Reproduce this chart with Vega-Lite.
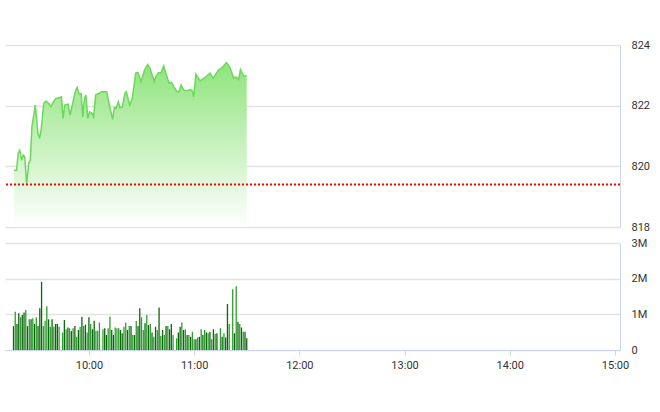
{
  "$schema": "https://vega.github.io/schema/vega-lite/v6.json",
  "autosize": "none",
  "width": 615,
  "height": 305,
  "padding": {"left": 5, "top": 45, "right": 40, "bottom": 62},
  "config": {
    "view": {"stroke": null},
    "axis": {"labelFont": "Roboto", "labelFontSize": 11, "labelColor": "#333333", "gridColor": "#e3e3e3", "gridWidth": 1.5, "domainColor": "#ccd6eb", "tickColor": "#ccd6eb"}
  },
  "layer": [
    {
      "data": {"values": [
        {"m": 17.25, "p": 819.87}, {"m": 18.75, "p": 819.87}, {"m": 19.67, "p": 820.43}, {"m": 20.58, "p": 820.53},
        {"m": 21.58, "p": 820.20}, {"m": 22.5, "p": 820.37}, {"m": 23.42, "p": 820.31}, {"m": 24.5, "p": 819.41},
        {"m": 25.67, "p": 820.10}, {"m": 26.58, "p": 820.20}, {"m": 27.5, "p": 821.30}, {"m": 29.42, "p": 822.02},
        {"m": 30.92, "p": 821.09}, {"m": 31.83, "p": 820.92}, {"m": 32.75, "p": 821.19}, {"m": 34.25, "p": 822.08},
        {"m": 35.58, "p": 822.15}, {"m": 36.5, "p": 822.10}, {"m": 38.42, "p": 821.97}, {"m": 39.25, "p": 822.08},
        {"m": 41.17, "p": 822.24}, {"m": 43.08, "p": 822.26}, {"m": 44.33, "p": 822.29}, {"m": 45.25, "p": 821.58},
        {"m": 46.25, "p": 822.02}, {"m": 48.08, "p": 822.05}, {"m": 49.25, "p": 821.69}, {"m": 50.5, "p": 822.02},
        {"m": 52.42, "p": 822.51}, {"m": 53.33, "p": 822.60}, {"m": 54.25, "p": 822.40}, {"m": 55.58, "p": 822.40},
        {"m": 56.5, "p": 821.63}, {"m": 57.5, "p": 822.24}, {"m": 58.33, "p": 822.35}, {"m": 59.33, "p": 821.58},
        {"m": 60.42, "p": 821.80}, {"m": 61.75, "p": 821.74}, {"m": 62.67, "p": 821.63}, {"m": 63.83, "p": 822.35},
        {"m": 65.5, "p": 822.40}, {"m": 67.33, "p": 822.46}, {"m": 70.17, "p": 822.46}, {"m": 71.67, "p": 822.02},
        {"m": 73.5, "p": 821.55}, {"m": 74.5, "p": 821.94}, {"m": 75.42, "p": 821.91}, {"m": 76.75, "p": 822.13},
        {"m": 77.67, "p": 821.94}, {"m": 79.08, "p": 821.96}, {"m": 80.5, "p": 822.40}, {"m": 81.33, "p": 822.46},
        {"m": 83.25, "p": 822.02}, {"m": 84.75, "p": 822.24}, {"m": 86.67, "p": 823.07}, {"m": 88, "p": 823.09},
        {"m": 89.75, "p": 822.79}, {"m": 91.67, "p": 823.17}, {"m": 93.5, "p": 823.36}, {"m": 94.83, "p": 823.23},
        {"m": 97.33, "p": 822.79}, {"m": 98.17, "p": 822.96}, {"m": 99.75, "p": 823.09}, {"m": 101, "p": 823.07},
        {"m": 102.67, "p": 823.31}, {"m": 103.83, "p": 823.07}, {"m": 105.75, "p": 822.74}, {"m": 107.17, "p": 822.77},
        {"m": 108.5, "p": 822.62}, {"m": 110.33, "p": 822.46}, {"m": 111.33, "p": 822.46}, {"m": 112.58, "p": 822.68},
        {"m": 114.08, "p": 822.51}, {"m": 116, "p": 822.49}, {"m": 117.83, "p": 822.53}, {"m": 118.75, "p": 822.51},
        {"m": 119.75, "p": 822.29}, {"m": 121, "p": 823.04}, {"m": 123.42, "p": 822.82}, {"m": 126.25, "p": 822.93},
        {"m": 129.08, "p": 823.07}, {"m": 130.92, "p": 822.90}, {"m": 133.75, "p": 823.17}, {"m": 135.58, "p": 823.23},
        {"m": 138.42, "p": 823.42}, {"m": 140.25, "p": 823.28}, {"m": 142.5, "p": 822.92}, {"m": 144, "p": 822.94},
        {"m": 145.33, "p": 822.86}, {"m": 146.42, "p": 823.19}, {"m": 148.33, "p": 822.97}, {"m": 150, "p": 822.99}
      ]},
      "layer": [
        {
          "mark": {
            "type": "area",
            "color": {"gradient": "linear", "x1": 0, "y1": 0, "x2": 0, "y2": 1, "stops": [{"offset": 0, "color": "#8fe47c"}, {"offset": 1, "color": "#ffffff"}]}
          },
          "encoding": {
            "x": {"field": "m", "type": "quantitative", "scale": {"domain": [15, 360], "zero": false, "nice": false}},
            "y": {"field": "p", "type": "quantitative", "scale": {"domain": [818, 824], "zero": false, "nice": false, "range": [182, 0]}, "axis": {"orient": "right", "values": [818, 820, 822, 824], "ticks": false, "labelPadding": 11, "grid": true, "title": null}},
            "y2": {"datum": 818}
          }
        },
        {
          "mark": {"type": "line", "color": "#6ad95a", "strokeWidth": 1.5},
          "encoding": {
            "x": {"field": "m", "type": "quantitative"},
            "y": {"field": "p", "type": "quantitative"}
          }
        },
        {
          "data": {"values": [{"r": 819.4}]},
          "mark": {"type": "rule", "color": "#ff0000", "strokeWidth": 2, "strokeDash": [2, 2]},
          "encoding": {"y": {"field": "r", "type": "quantitative"}}
        }
      ]
    },
    {
      "data": {"values": [
        {"m": 17, "v": 670000, "d": "a"}, {"m": 18, "v": 1070000, "d": "b"}, {"m": 19, "v": 730000, "d": "a"},
        {"m": 20, "v": 1030000, "d": "a"}, {"m": 21, "v": 920000, "d": "b"}, {"m": 22, "v": 980000, "d": "a"},
        {"m": 23, "v": 1050000, "d": "a"}, {"m": 24, "v": 1120000, "d": "b"}, {"m": 25, "v": 670000, "d": "a"},
        {"m": 26, "v": 860000, "d": "b"}, {"m": 27, "v": 860000, "d": "a"}, {"m": 28, "v": 890000, "d": "b"},
        {"m": 29, "v": 730000, "d": "a"}, {"m": 30, "v": 920000, "d": "b"}, {"m": 31, "v": 670000, "d": "a"},
        {"m": 32, "v": 1170000, "d": "a"}, {"m": 33, "v": 1910000, "d": "a"}, {"m": 34, "v": 670000, "d": "b"},
        {"m": 35, "v": 820000, "d": "b"}, {"m": 36, "v": 1230000, "d": "b"}, {"m": 37, "v": 860000, "d": "a"},
        {"m": 38, "v": 650000, "d": "b"}, {"m": 39, "v": 860000, "d": "a"}, {"m": 40, "v": 650000, "d": "b"},
        {"m": 41, "v": 730000, "d": "a"}, {"m": 42, "v": 730000, "d": "a"}, {"m": 43, "v": 650000, "d": "b"},
        {"m": 45, "v": 490000, "d": "b"}, {"m": 46, "v": 840000, "d": "a"}, {"m": 47, "v": 580000, "d": "b"},
        {"m": 48, "v": 630000, "d": "a"}, {"m": 49, "v": 610000, "d": "b"}, {"m": 50, "v": 530000, "d": "a"},
        {"m": 51, "v": 610000, "d": "b"}, {"m": 52, "v": 670000, "d": "a"}, {"m": 53, "v": 370000, "d": "b"},
        {"m": 54, "v": 560000, "d": "a"}, {"m": 55, "v": 650000, "d": "b"}, {"m": 56, "v": 930000, "d": "a"},
        {"m": 57, "v": 670000, "d": "b"}, {"m": 58, "v": 710000, "d": "a"}, {"m": 59, "v": 490000, "d": "b"},
        {"m": 60, "v": 920000, "d": "a"}, {"m": 61, "v": 730000, "d": "b"}, {"m": 62, "v": 580000, "d": "a"},
        {"m": 63, "v": 820000, "d": "a"}, {"m": 64, "v": 540000, "d": "b"}, {"m": 65, "v": 540000, "d": "b"},
        {"m": 66, "v": 770000, "d": "b"},
        {"m": 68, "v": 580000, "d": "b"}, {"m": 69, "v": 610000, "d": "a"}, {"m": 70, "v": 420000, "d": "a"},
        {"m": 71, "v": 610000, "d": "b"}, {"m": 72, "v": 930000, "d": "b"}, {"m": 73, "v": 560000, "d": "a"},
        {"m": 74, "v": 420000, "d": "a"}, {"m": 75, "v": 630000, "d": "b"}, {"m": 76, "v": 610000, "d": "b"},
        {"m": 77, "v": 610000, "d": "b"}, {"m": 78, "v": 560000, "d": "a"}, {"m": 79, "v": 470000, "d": "a"},
        {"m": 80, "v": 650000, "d": "b"}, {"m": 81, "v": 770000, "d": "b"}, {"m": 82, "v": 560000, "d": "a"},
        {"m": 83, "v": 670000, "d": "b"}, {"m": 84, "v": 670000, "d": "a"}, {"m": 85, "v": 420000, "d": "b"},
        {"m": 86, "v": 420000, "d": "a"}, {"m": 87, "v": 810000, "d": "b"}, {"m": 88, "v": 670000, "d": "a"},
        {"m": 89, "v": 1170000, "d": "a"}, {"m": 90, "v": 920000, "d": "b"}, {"m": 91, "v": 560000, "d": "b"},
        {"m": 92, "v": 750000, "d": "a"}, {"m": 93, "v": 980000, "d": "b"}, {"m": 94, "v": 700000, "d": "a"},
        {"m": 95, "v": 730000, "d": "b"}, {"m": 96, "v": 490000, "d": "a"}, {"m": 97, "v": 370000, "d": "b"},
        {"m": 98, "v": 650000, "d": "a"}, {"m": 99, "v": 560000, "d": "b"}, {"m": 100, "v": 1190000, "d": "a"},
        {"m": 101, "v": 390000, "d": "b"}, {"m": 102, "v": 560000, "d": "a"}, {"m": 103, "v": 420000, "d": "b"},
        {"m": 104, "v": 670000, "d": "a"}, {"m": 105, "v": 670000, "d": "b"}, {"m": 106, "v": 580000, "d": "a"},
        {"m": 107, "v": 730000, "d": "a"}, {"m": 108, "v": 420000, "d": "b"},
        {"m": 110, "v": 330000, "d": "b"}, {"m": 111, "v": 490000, "d": "a"}, {"m": 112, "v": 650000, "d": "a"},
        {"m": 113, "v": 770000, "d": "b"}, {"m": 114, "v": 560000, "d": "a"}, {"m": 115, "v": 580000, "d": "b"},
        {"m": 116, "v": 420000, "d": "a"}, {"m": 117, "v": 420000, "d": "b"}, {"m": 118, "v": 370000, "d": "a"},
        {"m": 119, "v": 510000, "d": "b"}, {"m": 120, "v": 300000, "d": "b"}, {"m": 121, "v": 300000, "d": "a"},
        {"m": 122, "v": 350000, "d": "b"}, {"m": 123, "v": 370000, "d": "a"}, {"m": 124, "v": 580000, "d": "b"},
        {"m": 125, "v": 420000, "d": "a"}, {"m": 126, "v": 560000, "d": "b"}, {"m": 127, "v": 490000, "d": "a"},
        {"m": 128, "v": 470000, "d": "b"}, {"m": 129, "v": 510000, "d": "a"}, {"m": 130, "v": 300000, "d": "b"},
        {"m": 131, "v": 580000, "d": "a"}, {"m": 132, "v": 450000, "d": "b"}, {"m": 133, "v": 470000, "d": "a"},
        {"m": 135, "v": 610000, "d": "b"}, {"m": 136, "v": 370000, "d": "a"}, {"m": 137, "v": 470000, "d": "b"},
        {"m": 138, "v": 350000, "d": "a"}, {"m": 139, "v": 1290000, "d": "a"}, {"m": 140, "v": 730000, "d": "b"},
        {"m": 142, "v": 1700000, "d": "b"}, {"m": 143, "v": 470000, "d": "a"}, {"m": 144, "v": 1790000, "d": "b"},
        {"m": 145, "v": 790000, "d": "a"}, {"m": 146, "v": 730000, "d": "b"}, {"m": 147, "v": 630000, "d": "a"},
        {"m": 148, "v": 510000, "d": "b"}, {"m": 149, "v": 510000, "d": "a"}, {"m": 150, "v": 330000, "d": "a"}
      ]},
      "mark": {"type": "bar", "width": 1.3},
      "encoding": {
        "x": {"field": "m", "type": "quantitative", "scale": {"domain": [15, 360], "zero": false, "nice": false}, "axis": {"values": [60, 120, 180, 240, 300, 360], "labelExpr": "(9 + floor(datum.value / 60)) + ':00'", "grid": false, "tickSize": 5, "labelPadding": 4, "labelFlush": false, "title": null}},
        "y": {"field": "v", "type": "quantitative", "scale": {"domain": [0, 3000000], "nice": false, "range": [305, 198]}, "axis": {"orient": "right", "values": [0, 1000000, 2000000, 3000000], "labelExpr": "datum.value == 0 ? '0' : (datum.value / 1000000) + 'M'", "ticks": false, "labelPadding": 11, "grid": true, "title": null}},
        "color": {"field": "d", "type": "nominal", "scale": {"domain": ["a", "b"], "range": ["#0c660c", "#2e9e2e"]}, "legend": null}
      }
    }
  ],
  "resolve": {"scale": {"y": "independent"}, "axis": {"y": "independent"}}
}
